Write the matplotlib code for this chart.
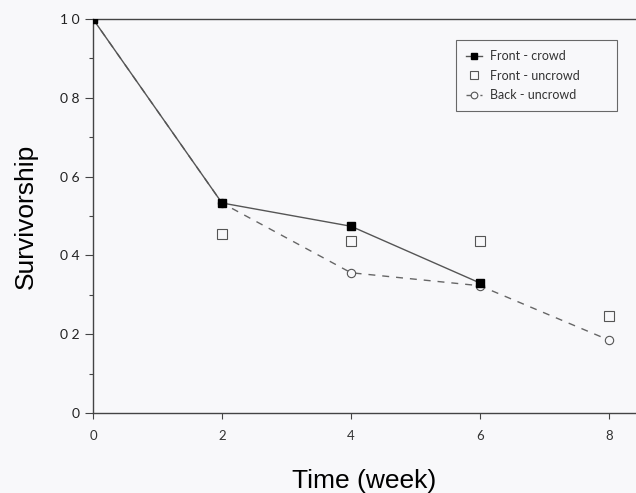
import matplotlib.pyplot as plt
import numpy as np

# data
weeks = [0, 2, 4, 6, 8]
front_crowd_weeks = [0, 2, 4, 6]
front_crowd = [1.0, 0.533, 0.474, 0.33]
front_uncrowd_weeks = [2, 4, 6, 8]
front_uncrowd = [0.454, 0.436, 0.436, 0.246]
back_uncrowd = [1.0, 0.533, 0.356, 0.323, 0.185]

ytick_vals = [0, 0.2, 0.4, 0.6, 0.8, 1.0]
ytick_labels = ["0", "0 2", "0 4", "0 6", "0 8", "1 0"]

bg = '#f8f8fa'
fig = plt.figure(figsize=(6.36, 4.93), dpi=100, facecolor=bg)
ax = fig.add_axes([93/636, 80/493, 543/636, 394/493], facecolor=bg)

# lines
ax.plot(weeks, back_uncrowd, color='#666666', lw=1, ls=(0, (5, 5)),
        marker='o', ms=6, mfc=bg, mec='#555555', mew=0.8, label='Back - uncrowd', zorder=2)
ax.plot(front_crowd_weeks, front_crowd, color='#555555', lw=1, marker='s', ms=5.5,
        mfc='black', mec='black', label='Front - crowd', zorder=3)
ax.plot(front_uncrowd_weeks, front_uncrowd, ls='none', marker='s', ms=6.5,
        mfc=bg, mec='#555555', mew=0.8, label='Front - uncrowd', zorder=2)

ax.set_xlim(0, 8.42)
ax.set_ylim(0, 1.0)
ax.set_xticks(weeks)
ax.set_xticklabels([str(w) for w in weeks], fontsize=9.5, family='Lato', color='#333333')
ax.set_yticks(ytick_vals)
ax.set_yticklabels(ytick_labels, fontsize=10, family='Lato', color='#222222')
ax.set_yticks(np.arange(0.1, 1.0, 0.2), minor=True)
ax.tick_params(axis='both', which='both', direction='out', color='#444444', width=0.8)
ax.tick_params(axis='y', which='major', length=6)
ax.tick_params(axis='y', which='minor', length=3)
ax.tick_params(axis='x', length=4, pad=8)

ax.spines['right'].set_visible(False)
for s in ['left', 'bottom', 'top']:
    ax.spines[s].set_color('#444444')
    ax.spines[s].set_linewidth(1)

ax.set_xlabel('Time (week)', fontsize=19, family='Liberation Sans', labelpad=20)
ax.set_ylabel('Survivorship', fontsize=19, family='Liberation Sans', labelpad=16)

handles, labels = ax.get_legend_handles_labels()
order = [1, 2, 0]
leg = ax.legend([handles[i] for i in order], [labels[i] for i in order],
                loc='upper left', bbox_to_anchor=(363/543, 1 - 95/394, 161/543, 74/394),
                mode='expand', borderaxespad=0, prop={'family': 'Lato', 'size': 9},
                frameon=True, fancybox=False, edgecolor='#444444', facecolor=bg,
                handlelength=1.3, handletextpad=0.6, labelspacing=0.6,
                borderpad=0.8, markerscale=0.8)
leg.get_frame().set_linewidth(0.8)
for t in leg.get_texts():
    t.set_color('#333333')

fig.savefig('out.png', dpi=100, facecolor=bg)
